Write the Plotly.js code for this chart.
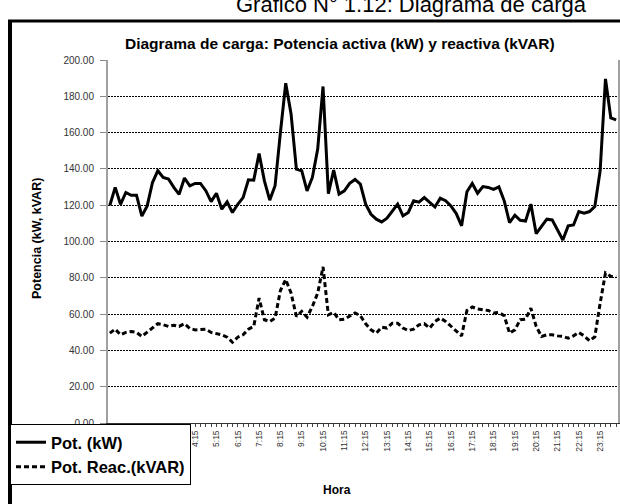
<!DOCTYPE html>
<html>
<head>
<meta charset="utf-8">
<script src="https://cdn.plot.ly/plotly-3.0.1.min.js"></script>
<style>
html,body{margin:0;padding:0;background:#fff;}
#chart{width:620px;height:504px;}
</style>
</head>
<body>
<div id="chart"></div>
<script>
var hours = [
"0:15","0:30","0:45","1:00","1:15","1:30","1:45","2:00",
"2:15","2:30","2:45","3:00","3:15","3:30","3:45","4:00",
"4:15","4:30","4:45","5:00","5:15","5:30","5:45","6:00",
"6:15","6:30","6:45","7:00","7:15","7:30","7:45","8:00",
"8:15","8:30","8:45","9:00","9:15","9:30","9:45","10:00",
"10:15","10:30","10:45","11:00","11:15","11:30","11:45","12:00",
"12:15","12:30","12:45","13:00","13:15","13:30","13:45","14:00",
"14:15","14:30","14:45","15:00","15:15","15:30","15:45","16:00",
"16:15","16:30","16:45","17:00","17:15","17:30","17:45","18:00",
"18:15","18:30","18:45","19:00","19:15","19:30","19:45","20:00",
"20:15","20:30","20:45","21:00","21:15","21:30","21:45","22:00",
"22:15","22:30","22:45","23:00","23:15","23:30","23:45","0:00"
];

var potKW = [
120,129.8,120.5,127,125.5,125.5,114,119.6,132.5,139,135.3,134.4,129.8,126,135,130.7,
132,132,128,122,126.6,117.8,121.8,116,120.5,124.2,134,133.8,148.5,133.4,122.8,130.7,
160,187.2,170.3,139.9,139,127.9,135.3,150.9,185.4,126.4,139.3,126.1,127.9,132,134.2,131.6,
120.6,115,112.3,110.8,112.8,116.9,120.6,114.1,116,122.4,121.7,124.2,121.5,119,123.9,122.5,
119.6,115.4,108.6,127.4,132,126.6,130.3,129.8,128.7,130.1,122.4,110.4,114.5,111.7,111.3,120.6,
104.3,108.2,112.3,111.9,106.7,100.8,108.6,109.1,116.5,115.6,116.5,119.3,139,189.6,168.1,167
];

var potKVAR = [
49.5,51.7,48.6,49.9,50.4,49.9,47.7,49.9,52.3,54.7,54.1,53.2,53.9,53.2,54.7,52.1,
51.3,51.7,51.7,49.9,49.1,48.6,47.3,44.5,47.3,48.6,51.7,53.2,68.8,56.9,55.9,57.8,
73,79,71.6,58.7,61.5,58.3,64.2,71.6,86,59.6,60.9,56.9,57.2,59.1,60.6,59.1,
54.7,51.3,49.5,52.8,52.3,55,55,52.3,51,51.7,54.1,54.7,52.3,55.9,57.8,56,
53.2,50.4,48,62,63.9,62.8,62.4,62,60.6,60.9,59.1,49.5,51.3,56.9,57.2,63.3,
53.2,47.7,48.6,48.6,48,47.7,46.7,48,49.9,48,45.3,47.5,66,82.7,80.8,80.4
];

var yTicks = [0,20,40,60,80,100,120,140,160,180,200];
var yTickText = ["0.00","20.00","40.00","60.00","80.00","100.00","120.00","140.00","160.00","180.00","200.00"];
var xTickText = hours.map(function(h, i){ return (i % 4 === 0) ? h : ""; });

var FONT = "Liberation Sans, Arial, sans-serif";

var traces = [
  {x: hours, y: potKW, type: "scatter", mode: "lines", name: "Pot. (kW)",
   line: {color: "#000", width: 3}},
  {x: hours, y: potKVAR, type: "scatter", mode: "lines", name: "Pot. Reac.(kVAR)",
   line: {color: "#000", width: 3, dash: "5px,3px"}}
];

var L = 108, R = 618, T = 60, B = 423;
function px(x){ return (x - L) / (R - L); }
function py(y){ return (B - y) / (B - T); }

var layout = {
  width: 620, height: 504,
  margin: {l: L, r: 620 - R, t: T, b: 504 - B, pad: 0},
  paper_bgcolor: "#fff", plot_bgcolor: "#fff",
  font: {family: FONT, color: "#000"},
  showlegend: true,
  legend: {
    x: px(10), y: py(424), xanchor: "left", yanchor: "top",
    bgcolor: "#fff", bordercolor: "#000", borderwidth: 1,
    font: {family: FONT, size: 16.5, color: "#000", weight: "bold"},
    tracegroupgap: 0, itemwidth: 30
  },
  xaxis: {
    type: "category",
    range: [-0.35, 95.35],
    tickmode: "array", tickvals: hours, ticktext: xTickText,
    tickangle: -90,
    ticks: "outside", ticklen: 3, tickcolor: "#444", tickwidth: 1,
    tickfont: {family: FONT, size: 8.5, color: "#333"},
    showline: true, linecolor: "#333", linewidth: 1,
    showgrid: false, zeroline: false, fixedrange: true
  },
  yaxis: {
    range: [0, 200],
    tickmode: "array", tickvals: yTicks, ticktext: yTickText,
    ticks: "outside", ticklen: 6, tickcolor: "#888", tickwidth: 1,
    ticklabelstandoff: 4,
    tickfont: {family: FONT, size: 10, color: "#333"},
    showline: true, linecolor: "#a0a0a0", linewidth: 2, mirror: true,
    showgrid: true, gridcolor: "#000", gridwidth: 1, griddash: "2px,1px",
    zeroline: false, fixedrange: true
  },
  shapes: [
    {type: "line", xref: "paper", yref: "paper", x0: px(10), x1: px(10), y0: py(20), y1: py(510),
     line: {color: "#000", width: 4}},
    {type: "line", xref: "paper", yref: "paper", x0: px(8), x1: px(640), y0: py(21), y1: py(21),
     line: {color: "#000", width: 3}}
  ],
  annotations: [
    {text: "Gráfico N° 1.12: Diagrama de carga", xref: "paper", yref: "paper",
     x: px(411), y: py(19), xanchor: "center", yanchor: "bottom", showarrow: false,
     font: {family: FONT, size: 22, color: "#000"}},
    {text: "<b>Diagrama de carga: Potencia activa (kW) y reactiva (kVAR)</b>", xref: "paper", yref: "paper",
     x: px(340), y: py(43), xanchor: "center", yanchor: "middle", showarrow: false,
     font: {family: FONT, size: 15.5, color: "#000"}},
    {text: "<b>Potencia (kW, kVAR)</b>", xref: "paper", yref: "paper",
     x: px(37), y: py(239), xanchor: "center", yanchor: "middle", textangle: -90, showarrow: false,
     font: {family: FONT, size: 12.5, color: "#000"}},
    {text: "<b>Hora</b>", xref: "paper", yref: "paper",
     x: px(337), y: py(490), xanchor: "center", yanchor: "middle", showarrow: false,
     font: {family: FONT, size: 12, color: "#000"}}
  ]
};

Plotly.newPlot("chart", traces, layout, {displayModeBar: false, staticPlot: true});
</script>
</body>
</html>
